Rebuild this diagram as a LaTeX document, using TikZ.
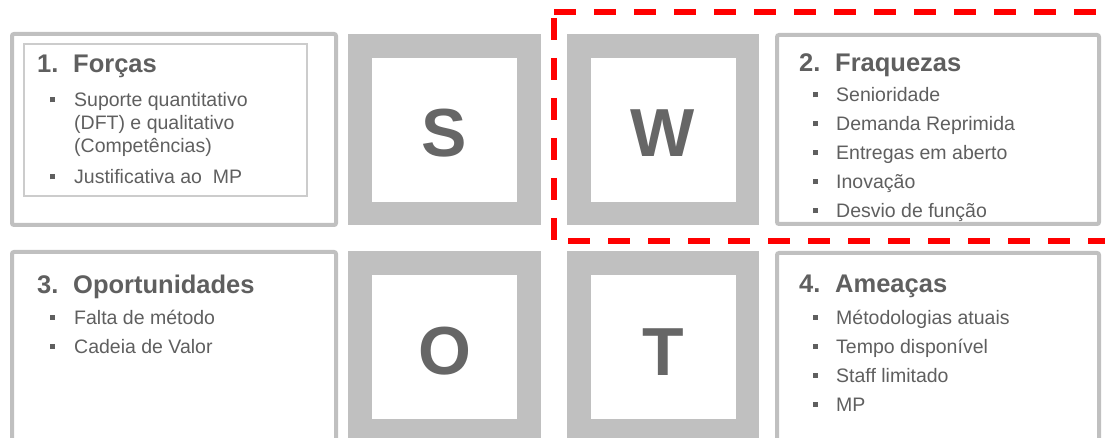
\documentclass[tikz,border=0pt]{standalone}
\usepackage{fontspec}
\setmainfont{Liberation Sans}
\definecolor{boxgray}{HTML}{C0C0C0}
\definecolor{thingray}{HTML}{CCCCCC}
\definecolor{txt}{HTML}{5F5F5F}
\definecolor{lettergray}{HTML}{666666}
\definecolor{dashred}{HTML}{FF0000}
\newcommand{\bulmark}[1]{\makebox[#1][l]{\rule[4.5pt]{5pt}{5pt}}}
\begin{document}
\begin{tikzpicture}[x=1pt,y=-1pt,
  frame/.style={draw=boxgray, line width=4pt, rounded corners=2pt},
  innerframe/.style={draw=thingray, line width=1.3pt},
  sqouter/.style={fill=boxgray},
  sqinner/.style={fill=white},
  head/.style={anchor=base west, inner sep=0pt, text=txt, font=\fontsize{25.5}{30}\selectfont\bfseries},
  itemtext/.style={anchor=base west, inner sep=0pt, text=txt, font=\fontsize{19.5}{23}\selectfont},
  bigletter/.style={anchor=base, inner sep=0pt, text=lettergray, font=\fontsize{68}{80}\selectfont\bfseries},
  redline/.style={draw=dashred, line width=6pt, dash pattern=on 22pt off 18pt}]
\useasboundingbox (0,0) rectangle (1105,438);
\clip (0,0) rectangle (1105,438);
\fill[white] (0,0) rectangle (1105,438);

% ---- frames
\draw[frame] (12,34) rectangle (336,225);
\draw[innerframe] (24,44) rectangle (307,196);
\draw[frame] (777,35) rectangle (1099,224);
\draw[frame] (12,252) rectangle (336,470);
\draw[frame] (777,253) rectangle (1099,470);

% ---- letter squares
\fill[sqouter] (348,34) rectangle (541,225);
\fill[sqinner] (372,58) rectangle (517,202);
\fill[sqouter] (567,34) rectangle (759,225);
\fill[sqinner] (591,58) rectangle (736,202);
\fill[sqouter] (348,251) rectangle (541,443);
\fill[sqinner] (372,275) rectangle (517,419);
\fill[sqouter] (567,251) rectangle (759,443);
\fill[sqinner] (591,275) rectangle (736,419);

\node[bigletter] (S) at (444.5,156.5) {S};
\node[bigletter] (W) at (663,156.5) {W};
\node[bigletter] (O) at (444.5,374) {O};
\node[bigletter] (T) at (663,375) {T};

% ---- 1. Forcas
\node[head] (h1n) at (37,73) {1.};
\node[head] (h1) at (73,73) {Forças};
\node[itemtext] (f1a) at (50,107) {\bulmark{24pt}Suporte quantitativo};
\node[itemtext] (f1b) at (74,130) {(DFT) e qualitativo};
\node[itemtext] (f1c) at (74,153) {(Competências)};
\node[itemtext] (f2) at (50,184) {\bulmark{24pt}Justificativa ao\ \ MP};

% ---- 2. Fraquezas
\node[head] (h2n) at (799,72) {2.};
\node[head] (h2) at (835,72) {Fraquezas};
\node[itemtext] (w1) at (813,102) {\bulmark{23pt}Senioridade};
\node[itemtext] (w2) at (813,131) {\bulmark{23pt}Demanda Reprimida};
\node[itemtext] (w3) at (813,160) {\bulmark{23pt}Entregas em aberto};
\node[itemtext] (w4) at (813,189) {\bulmark{23pt}Inovação};
\node[itemtext] (w5) at (813,218) {\bulmark{23pt}Desvio de função};

% ---- 3. Oportunidades
\node[head] (h3n) at (37,293) {3.};
\node[head] (h3) at (73,293) {Oportunidades};
\node[itemtext] (o1) at (50,324) {\bulmark{24pt}Falta de método};
\node[itemtext] (o2) at (50,353) {\bulmark{24pt}Cadeia de Valor};

% ---- 4. Ameacas
\node[head] (h4n) at (799,292) {4.};
\node[head] (h4) at (835,292) {Ameaças};
\node[itemtext] (t1) at (813,324) {\bulmark{23pt}Métodologias atuais};
\node[itemtext] (t2) at (813,353) {\bulmark{23pt}Tempo disponível};
\node[itemtext] (t3) at (813,382) {\bulmark{23pt}Staff limitado};
\node[itemtext] (t4) at (813,411) {\bulmark{23pt}MP};

% ---- red dashed highlight
\draw[redline] (554,12.5) -- (1120,12.5);
\draw[redline] (554,18) -- (554,242);
\draw[redline] (568,241) -- (1120,241);
\end{tikzpicture}
\end{document}
